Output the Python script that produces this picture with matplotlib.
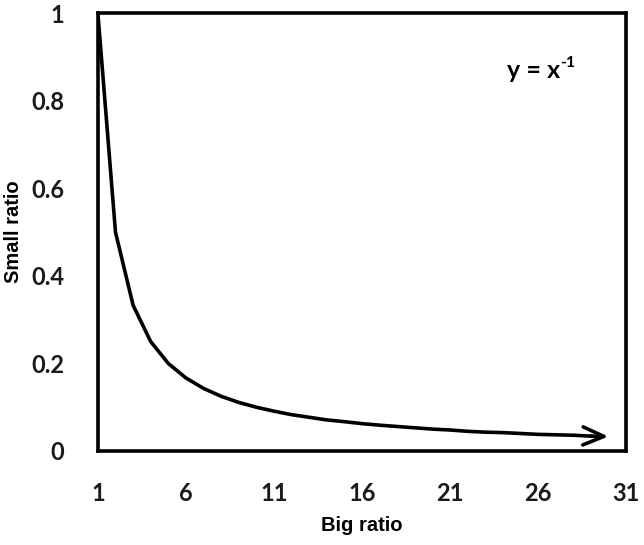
import matplotlib
matplotlib.use('Agg')
import matplotlib.pyplot as plt

# values (y = 1/x at integer points)
big_ratio = list(range(1, 31))
small_ratio = [1.0, 0.5, 0.333, 0.25, 0.2, 0.167, 0.143, 0.125, 0.111, 0.1,
               0.091, 0.083, 0.077, 0.071, 0.067, 0.0625, 0.059, 0.056, 0.053, 0.05,
               0.048, 0.045, 0.043, 0.042, 0.04, 0.038, 0.037, 0.036, 0.034, 0.033]
x_ticks = [1, 6, 11, 16, 21, 26, 31]
y_ticks = [0, 0.2, 0.4, 0.6, 0.8, 1]
y_tick_labels = ['0', '0.2', '0.4', '0.6', '0.8', '1']


def main():
    fig = plt.figure(figsize=(6.44, 5.45), dpi=100)
    ax = fig.add_axes([0.152, 0.1725, 0.820, 0.803])

    ax.plot(big_ratio[:-1], small_ratio[:-1], color='black', lw=2.6, solid_joinstyle='round')
    ax.annotate('', xy=(big_ratio[-1], small_ratio[-1]),
                xytext=(big_ratio[-2], small_ratio[-2]),
                arrowprops=dict(arrowstyle='->,head_length=1.5,head_width=0.65',
                                color='black', lw=2.6, shrinkA=0, shrinkB=0))

    ax.set_xlim(1, 31)
    ax.set_ylim(0, 1)
    ax.set_xticks(x_ticks)
    ax.set_yticks(y_ticks)
    ax.set_yticklabels(y_tick_labels)
    ax.tick_params(axis='x', length=0, pad=22)
    ax.tick_params(axis='y', length=0, pad=24)
    for lab in ax.get_xticklabels() + ax.get_yticklabels():
        lab.set_fontfamily('Lato')
        lab.set_fontweight('bold')
        lab.set_fontsize(17)
        lab.set_color('#1a1a1a')
    for s in ax.spines.values():
        s.set_linewidth(2.6)
        s.set_color('black')

    ax.set_xlabel('Big ratio', fontfamily='Liberation Sans', fontweight='bold',
                  fontsize=14.5, labelpad=8)
    ax.set_ylabel('Small ratio', fontfamily='Liberation Sans', fontweight='bold',
                  fontsize=14.5, labelpad=6)

    ax.text(0.875, 0.87, 'y = x', transform=ax.transAxes, ha='right', va='center',
            fontsize=18, fontfamily='Lato', fontweight='bold')
    ax.annotate('-1', xy=(0.875, 0.87), xycoords='axes fraction', xytext=(0, 5),
                textcoords='offset points', ha='left', va='center',
                fontsize=11.5, fontfamily='Lato', fontweight='bold')

    fig.savefig('out.png', dpi=100)


if __name__ == '__main__':
    main()
